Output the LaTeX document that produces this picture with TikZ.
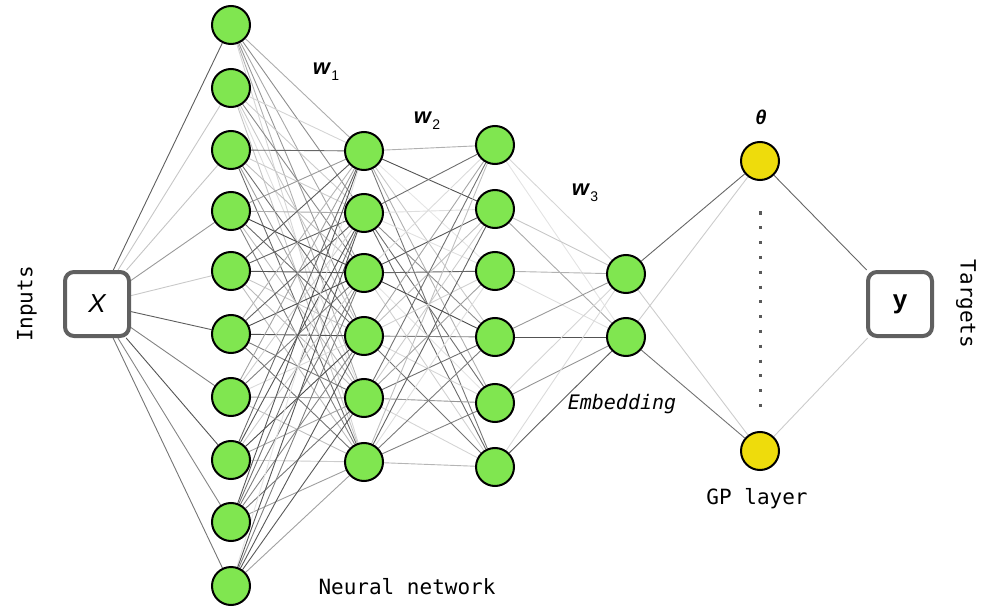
\documentclass[tikz,border=0pt]{standalone}
\usepackage{fontspec}
\setmainfont{Liberation Sans}
\newfontfamily\mono{DejaVu Sans Mono}
\usetikzlibrary{backgrounds}
\newcommand{\wsub}[1]{\kern1.5pt\raisebox{-6pt}{\normalfont\fontsize{14}{14}\selectfont #1}}
\begin{document}
\begin{tikzpicture}[x=1pt,y=-1pt,
  neuron/.style={circle,draw=black,line width=2pt,fill={rgb,255:red,128;green,230;blue,80},minimum size=38pt,inner sep=0pt},
  gpnode/.style={circle,draw=black,line width=2pt,fill={rgb,255:red,238;green,220;blue,12},minimum size=38pt,inner sep=0pt},
  iobox/.style={draw={rgb,255:red,96;green,96;blue,96},line width=4pt,rounded corners=9pt,minimum size=64pt,inner sep=0pt,fill=white},
  link/.style={line width=0.9pt},
  lbl/.style={font=\mono\fontsize{21}{24}\selectfont},
  wlbl/.style={font=\bfseries\itshape\fontsize{22}{24}\selectfont}]
\useasboundingbox (0,0) rectangle (1002,615);
% nodes
\foreach \y [count=\i] in {25,88,150,211,271,334,397,460,522,586}
  \node[neuron] (a\i) at (231,\y) {};
\foreach \y [count=\i] in {151,213,273,336,398,462}
  \node[neuron] (b\i) at (364,\y) {};
\foreach \y [count=\i] in {145,209,271,337,403,467}
  \node[neuron] (c\i) at (495,\y) {};
\node[neuron] (d1) at (626,274) {};
\node[neuron] (d2) at (626,337) {};
\node[gpnode] (g1) at (760,161) {};
\node[gpnode] (g2) at (760,451) {};
\node[iobox] (X) at (97,304) {\itshape\fontsize{26}{28}\selectfont X};
\node[iobox] (Y) at (900,304) {\bfseries\fontsize{26}{28}\selectfont y};
% connectors
\pgfmathsetseed{7}
\begin{scope}[on background layer]
\foreach \i in {1,...,10} {
  \pgfmathsetmacro\g{int(15+55*rnd)}
  \draw[link,black!\g] (X) -- (a\i);
}
\foreach \i in {1,...,10} \foreach \j in {1,...,6} {
  \pgfmathsetmacro\g{int(10+62*rnd)}
  \draw[link,black!\g] (a\i) -- (b\j);
}
\foreach \i in {1,...,6} \foreach \j in {1,...,6} {
  \pgfmathsetmacro\g{int(10+62*rnd)}
  \draw[link,black!\g] (b\i) -- (c\j);
}
\foreach \i in {1,...,6} \foreach \j in {1,2} {
  \pgfmathsetmacro\g{int(10+60*rnd)}
  \draw[link,black!\g] (c\i) -- (d\j);
}
\draw[link,black!60] (d1) -- (g1);
\draw[link,black!20] (d2) -- (g1);
\draw[link,black!20] (d1) -- (g2);
\draw[link,black!55] (d2) -- (g2);
\draw[link,black!60] (g1) -- (Y);
\draw[link,black!20] (g2) -- (Y);
\end{scope}
% dots
\coordinate (dt) at (760,211.5);
\coordinate (db) at (760,407);
\draw[line width=3pt,black!65,dash pattern=on 3pt off 11.8pt] (dt) -- (db);
% labels
\node[lbl,rotate=90] (inp) at (27,304) {Inputs};
\node[lbl,rotate=-90] (tgt) at (966,304) {Targets};
\node[lbl] (nn) at (407,587) {Neural network};
\node[lbl,font=\mono\itshape\fontsize{20}{24}\selectfont] (emb) at (622,404) {Embedding};
\node[lbl] (gpl) at (757,499) {GP layer};
\node[wlbl] (w1) at (326,72) {w\wsub{1}};
\node[wlbl] (w2) at (427,121) {w\wsub{2}};
\node[wlbl] (w3) at (585,193) {w\wsub{3}};
\node[font=\bfseries\itshape\fontsize{20}{24}\selectfont] (th) at (761,117) {θ};
\end{tikzpicture}
\end{document}
